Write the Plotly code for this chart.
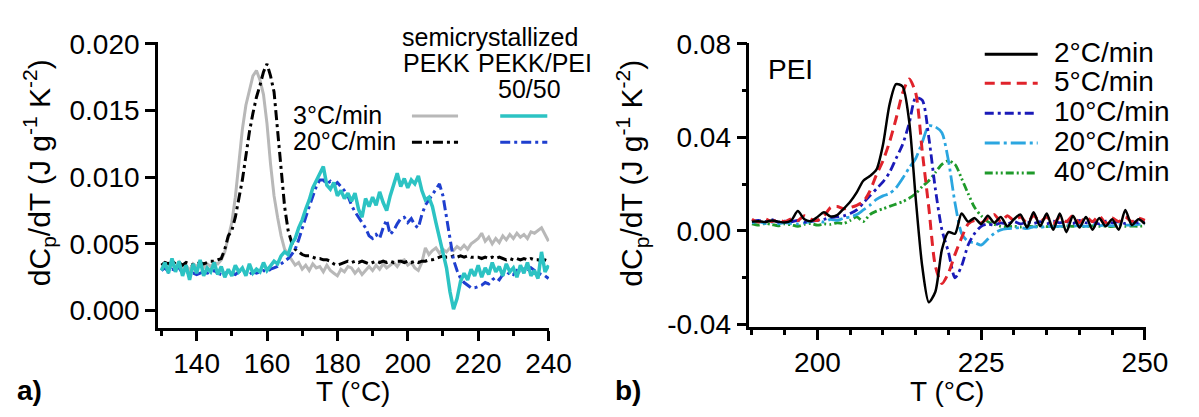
import plotly.graph_objects as go

W, H = 1199, 417
FONT = "Liberation Sans, Arial, sans-serif"

# ---------------- panel a) data ----------------
temp_a = list(range(130, 241))

pekk_3 = [0.0031, 0.0034, 0.0030, 0.0035, 0.0032, 0.0036, 0.0031, 0.0034, 0.0030, 0.0035,
          0.0033, 0.0036, 0.0032, 0.0035, 0.0033, 0.0036, 0.0035, 0.0038, 0.0044, 0.0054,
          0.0066, 0.0085, 0.0110, 0.0136, 0.0154, 0.0166, 0.0176, 0.0180, 0.0173, 0.0162,
          0.0140, 0.0110, 0.0086, 0.0070, 0.0056, 0.0046, 0.0042, 0.0038, 0.0034, 0.0036,
          0.0031, 0.0034, 0.0030, 0.0035, 0.0032, 0.0033, 0.0029, 0.0034, 0.0030, 0.0028,
          0.0026, 0.0031, 0.0029, 0.0033, 0.0032, 0.0028, 0.0031, 0.0027, 0.0030, 0.0033,
          0.0030, 0.0034, 0.0031, 0.0035, 0.0032, 0.0034, 0.0036, 0.0033, 0.0037, 0.0038,
          0.0034, 0.0036, 0.0032, 0.0030, 0.0036, 0.0047, 0.0042, 0.0045, 0.0047, 0.0043,
          0.0046, 0.0044, 0.0047, 0.0045, 0.0048, 0.0046, 0.0049, 0.0046, 0.0050, 0.0052,
          0.0054, 0.0058, 0.0052, 0.0055, 0.0050, 0.0054, 0.0051, 0.0056, 0.0053, 0.0057,
          0.0054, 0.0058, 0.0055, 0.0057, 0.0054, 0.0059, 0.0058, 0.0060, 0.0062, 0.0057,
          0.0052]

pekk_20 = [0.0034, 0.0036, 0.0035, 0.0037, 0.0035, 0.0036, 0.0034, 0.0036, 0.0035, 0.0034,
           0.0035, 0.0036, 0.0035, 0.0036, 0.0037, 0.0037, 0.0038, 0.0039, 0.0046, 0.0056,
           0.0060, 0.0070, 0.0084, 0.0098, 0.0116, 0.0134, 0.0148, 0.0160, 0.0169, 0.0179,
           0.0185, 0.0176, 0.0164, 0.0135, 0.0108, 0.0078, 0.0060, 0.0051, 0.0046, 0.0044,
           0.0042, 0.0041, 0.0041, 0.0040, 0.0039, 0.0039, 0.0038, 0.0038, 0.0037, 0.0035,
           0.0034, 0.0035, 0.0036, 0.0037, 0.0036, 0.0037, 0.0036, 0.0037, 0.0036, 0.0035,
           0.0036, 0.0037, 0.0036, 0.0037, 0.0036, 0.0037, 0.0036, 0.0037, 0.0037, 0.0036,
           0.0037, 0.0036, 0.0037, 0.0036, 0.0037, 0.0037, 0.0038, 0.0038, 0.0039, 0.0040,
           0.0041, 0.0040, 0.0040, 0.0041, 0.0040, 0.0041, 0.0040, 0.0041, 0.0040, 0.0040,
           0.0040, 0.0039, 0.0040, 0.0039, 0.0040, 0.0039, 0.0040, 0.0039, 0.0038, 0.0039,
           0.0038, 0.0039, 0.0038, 0.0039, 0.0038, 0.0039, 0.0038, 0.0038, 0.0037, 0.0038,
           0.0037]

blend_3 = [0.0030, 0.0036, 0.0028, 0.0039, 0.0029, 0.0037, 0.0026, 0.0034, 0.0023, 0.0035,
           0.0028, 0.0038, 0.0026, 0.0032, 0.0029, 0.0036, 0.0027, 0.0033, 0.0025, 0.0031,
           0.0026, 0.0034, 0.0029, 0.0032, 0.0026, 0.0035, 0.0028, 0.0031, 0.0029, 0.0036,
           0.0030, 0.0034, 0.0037, 0.0035, 0.0041, 0.0044, 0.0042, 0.0050, 0.0054, 0.0062,
           0.0068, 0.0076, 0.0083, 0.0092, 0.0097, 0.0102, 0.0108, 0.0094, 0.0091, 0.0096,
           0.0086, 0.0090, 0.0084, 0.0088, 0.0082, 0.0088, 0.0076, 0.0070, 0.0084, 0.0078,
           0.0085, 0.0079, 0.0089, 0.0081, 0.0075, 0.0086, 0.0094, 0.0103, 0.0093, 0.0099,
           0.0092, 0.0098, 0.0095, 0.0101, 0.0090, 0.0083, 0.0085, 0.0078, 0.0066, 0.0054,
           0.0044, 0.0032, 0.0014, 0.0001, 0.0009, 0.0022, 0.0028, 0.0023, 0.0031, 0.0026,
           0.0034, 0.0025, 0.0032, 0.0027, 0.0036, 0.0029, 0.0033, 0.0026, 0.0035, 0.0029,
           0.0032, 0.0025, 0.0034, 0.0028, 0.0036, 0.0026, 0.0030, 0.0024, 0.0044, 0.0029,
           0.0034]

blend_20 = [0.0030, 0.0032, 0.0029, 0.0031, 0.0030, 0.0032, 0.0028, 0.0030, 0.0027, 0.0028,
            0.0027, 0.0028, 0.0029, 0.0028, 0.0029, 0.0030, 0.0028, 0.0027, 0.0028, 0.0029,
            0.0028, 0.0027, 0.0029, 0.0030, 0.0028, 0.0027, 0.0029, 0.0028, 0.0029, 0.0030,
            0.0029, 0.0031, 0.0032, 0.0033, 0.0035, 0.0037, 0.0039, 0.0042, 0.0046, 0.0053,
            0.0062, 0.0070, 0.0078, 0.0086, 0.0093, 0.0098, 0.0098, 0.0095, 0.0097, 0.0094,
            0.0096, 0.0093, 0.0090, 0.0086, 0.0079, 0.0074, 0.0070, 0.0066, 0.0062, 0.0056,
            0.0054, 0.0057, 0.0054, 0.0062, 0.0068, 0.0057, 0.0060, 0.0065, 0.0069, 0.0070,
            0.0066, 0.0069, 0.0064, 0.0062, 0.0072, 0.0079, 0.0083, 0.0088, 0.0092, 0.0095,
            0.0086, 0.0070, 0.0052, 0.0038, 0.0030, 0.0024, 0.0021, 0.0019, 0.0017, 0.0017,
            0.0018, 0.0019, 0.0021, 0.0020, 0.0023, 0.0025, 0.0023, 0.0027, 0.0026, 0.0029,
            0.0027, 0.0030, 0.0028, 0.0031, 0.0029, 0.0032, 0.0030, 0.0028, 0.0027, 0.0026,
            0.0024]

# ---------------- panel b) data ----------------
temp_b = list(range(190, 251))

pei_2 = [0.0040, 0.0042, 0.0038, 0.0045, 0.0040, 0.0036, 0.0045, 0.0085, 0.0050, 0.0042,
         0.0060, 0.0080, 0.0062, 0.0068, 0.0095, 0.0125, 0.0165, 0.0215, 0.0235, 0.0262,
         0.0368, 0.0540, 0.0628, 0.0618, 0.0470, 0.0140, -0.0152, -0.0305, -0.0260, -0.0080,
         -0.0005, -0.0012, 0.0075, 0.0040, 0.0055, 0.0030, 0.0065, 0.0035, 0.0060, 0.0020,
         0.0050, 0.0070, 0.0015, 0.0080, 0.0020, 0.0075, 0.0005, 0.0075, -0.0005, 0.0065,
         0.0015, 0.0060, 0.0005, 0.0055, 0.0020, 0.0050, 0.0005, 0.0090, 0.0025, 0.0050,
         0.0030]

pei_5 = [0.0050, 0.0038, 0.0052, 0.0040, 0.0048, 0.0040, 0.0052, 0.0045, 0.0065, 0.0050,
         0.0045, 0.0065, 0.0100, 0.0105, 0.0095, 0.0100, 0.0110, 0.0125, 0.0170, 0.0240,
         0.0300, 0.0380, 0.0480, 0.0590, 0.0650, 0.0590, 0.0340, 0.0100, -0.0150, -0.0225,
         -0.0180, -0.0100, -0.0030, 0.0030, 0.0045, 0.0035, 0.0055, 0.0070, 0.0040, 0.0065,
         0.0045, 0.0060, 0.0035, 0.0065, 0.0040, 0.0060, 0.0030, 0.0060, 0.0040, 0.0065,
         0.0035, 0.0060, 0.0040, 0.0065, 0.0035, 0.0055, 0.0040, 0.0060, 0.0040, 0.0055,
         0.0045]

pei_10 = [0.0042, 0.0045, 0.0040, 0.0048, 0.0038, 0.0042, 0.0040, 0.0045, 0.0038, 0.0042,
          0.0045, 0.0050, 0.0058, 0.0060, 0.0065, 0.0075, 0.0090, 0.0120, 0.0150, 0.0180,
          0.0210, 0.0250, 0.0310, 0.0370, 0.0460, 0.0570, 0.0560, 0.0400, 0.0180, 0.0005,
          -0.0090, -0.0200, -0.0150, -0.0060, -0.0010, 0.0020, 0.0030, 0.0025, 0.0035, 0.0030,
          0.0040, 0.0030, 0.0038, 0.0032, 0.0040, 0.0030, 0.0042, 0.0035, 0.0040, 0.0032,
          0.0045, 0.0035, 0.0040, 0.0030, 0.0042, 0.0035, 0.0040, 0.0032, 0.0040, 0.0035,
          0.0038]

pei_20 = [0.0035, 0.0040, 0.0032, 0.0038, 0.0030, 0.0036, 0.0032, 0.0030, 0.0035, 0.0040,
          0.0045, 0.0038, 0.0050, 0.0045, 0.0055, 0.0060, 0.0070, 0.0090, 0.0110, 0.0135,
          0.0150, 0.0160, 0.0185, 0.0225, 0.0270, 0.0310, 0.0380, 0.0450, 0.0445, 0.0420,
          0.0300, 0.0120, -0.0010, -0.0045, -0.0050, -0.0060, -0.0035, -0.0010, 0.0005, 0.0010,
          0.0012, 0.0015, 0.0010, 0.0018, 0.0015, 0.0020, 0.0018, 0.0020, 0.0022, 0.0020,
          0.0024, 0.0020, 0.0025, 0.0022, 0.0025, 0.0022, 0.0028, 0.0025, 0.0025, 0.0028,
          0.0030]

pei_40 = [0.0030, 0.0025, 0.0032, 0.0028, 0.0022, 0.0030, 0.0026, 0.0020, 0.0028, 0.0032,
          0.0025, 0.0030, 0.0028, 0.0035, 0.0032, 0.0045, 0.0060, 0.0040, 0.0070, 0.0085,
          0.0095, 0.0105, 0.0115, 0.0125, 0.0140, 0.0160, 0.0190, 0.0215, 0.0250, 0.0285,
          0.0300, 0.0285, 0.0225, 0.0160, 0.0100, 0.0065, 0.0040, 0.0028, 0.0020, 0.0018,
          0.0020, 0.0017, 0.0021, 0.0018, 0.0022, 0.0019, 0.0021, 0.0018, 0.0022, 0.0020,
          0.0021, 0.0019, 0.0022, 0.0020, 0.0021, 0.0019, 0.0022, 0.0020, 0.0021, 0.0020,
          0.0022]

left_ticks = [0.000, 0.005, 0.010, 0.015, 0.020]
left_ticktext = ["0.000", "0.005", "0.010", "0.015", "0.020"]
right_ticks = [-0.04, 0.0, 0.04, 0.08]
right_ticktext = ["-0.04", "0.00", "0.04", "0.08"]

# ---------------- styles ----------------
GREY = "#b8b8b8"
CYAN = "#2cc3c3"
BLUE_A = "#1f3fcf"
RED = "#e0232b"
BLUE_B = "#1a1ab8"
LBLUE = "#2ba6e0"
GREEN = "#1f9a2a"

DASH_A = "10px,4px,3px,4px"
DASH_RED = "10px,6px"
DASH_B10 = "9px,4px,3px,4px"
DASH_B20 = "15px,4px,3px,4px"
DASH_B40 = "8px,3px,2px,3px,2px,3px"


def px(x):
    return x / W


def py(y):
    return 1 - y / H


fig = go.Figure()

# panel a
fig.add_trace(go.Scatter(x=temp_a, y=pekk_3, mode="lines", line=dict(color=GREY, width=3),
                         xaxis="x", yaxis="y", showlegend=False))
fig.add_trace(go.Scatter(x=temp_a, y=pekk_20, mode="lines", line=dict(color="black", width=3, dash=DASH_A),
                         xaxis="x", yaxis="y", showlegend=False))
fig.add_trace(go.Scatter(x=temp_a, y=blend_20, mode="lines", line=dict(color=BLUE_A, width=3, dash=DASH_A),
                         xaxis="x", yaxis="y", showlegend=False))
fig.add_trace(go.Scatter(x=temp_a, y=blend_3, mode="lines", line=dict(color=CYAN, width=3.5),
                         xaxis="x", yaxis="y", showlegend=False))

# panel b
for vals, col, dash, wd in [(pei_40, GREEN, DASH_B40, 2.8), (pei_20, LBLUE, DASH_B20, 2.8),
                            (pei_10, BLUE_B, DASH_B10, 2.8), (pei_5, RED, DASH_RED, 3),
                            (pei_2, "black", "solid", 2.5)]:
    fig.add_trace(go.Scatter(x=temp_b, y=vals, mode="lines",
                             line=dict(color=col, width=wd, dash=dash, shape="spline", smoothing=0.7),
                             xaxis="x2", yaxis="y2", showlegend=False))

axis_common = dict(showline=True, linecolor="black", linewidth=2.5, ticks="outside",
                   tickcolor="black", tickwidth=2.5, ticklen=10, showgrid=False,
                   zeroline=False, tickfont=dict(family=FONT, size=28, color="black"))

fig.update_layout(
    width=W, height=H, margin=dict(l=0, r=0, t=0, b=0),
    paper_bgcolor="white", plot_bgcolor="white",
    font=dict(family=FONT, color="black"),
    xaxis=dict(domain=[px(161), px(560)], range=[129, 240.2], anchor="y",
               tick0=0, dtick=20, ticklabelstandoff=-2,
               minor=dict(dtick=10, tick0=0, ticks="outside", ticklen=5, tickwidth=2.5, tickcolor="black"),
               **axis_common),
    yaxis=dict(domain=[py(336), py(30)], range=[-0.00133, 0.02014], anchor="x",
               tickvals=left_ticks, ticktext=left_ticktext, **axis_common),
    xaxis2=dict(domain=[px(764), px(1168)], range=[189.6, 250.1], anchor="y2",
                tickvals=[200, 225, 250], ticklabelstandoff=-2,
                minor=dict(dtick=5, tick0=0, ticks="outside", ticklen=5, tickwidth=2.5, tickcolor="black"),
                **axis_common),
    yaxis2=dict(domain=[py(335), py(31)], range=[-0.0412, 0.0804], anchor="x2",
                tickvals=right_ticks, ticktext=right_ticktext,
                minor=dict(dtick=0.02, tick0=0, ticks="outside", ticklen=5, tickwidth=2.5, tickcolor="black"),
                **axis_common),
)

ytitle = "dC<sub>p</sub>/dT (J g<sup>-1</sup> K<sup>-2</sup>)"
ann = []


def text(t, x, y, size, xanchor="center", angle=0, bold=False):
    if bold:
        t = "<b>" + t + "</b>"
    ann.append(dict(text=t, x=px(x), y=py(y), xref="paper", yref="paper", showarrow=False,
                    xanchor=xanchor, yanchor="middle", textangle=angle,
                    font=dict(family=FONT, size=size, color="black")))


text(ytitle, 40, 170, 30, angle=-90)
text(ytitle, 644, 170, 30, angle=-90)
text("T (°C)", 360, 404, 28)
text("T (°C)", 966, 404, 28)
text("a)", 30, 403, 28, bold=True)
text("b)", 640, 403, 28, bold=True)

# panel a legend
text("semicrystallized", 500, 25, 25)
text("PEKK", 445, 52, 25)
text("PEKK/PEI", 545, 52, 25)
text("50/50", 540, 80, 25)
text("3°C/min", 297, 108, 25, xanchor="left")
text("20°C/min", 297, 136, 25, xanchor="left")

# panel b legend
text("PEI", 806, 59, 28)
rows_b = [41, 72, 104, 136, 168]
labels_b = ["2°C/min", "5°C/min", "10°C/min", "20°C/min", "40°C/min"]
for r, lab in zip(rows_b, labels_b):
    text(lab, 1073, r, 28, xanchor="left")

fig.update_layout(annotations=ann)

shapes = []


def seg(x0, x1, y, col, dash, wd):
    shapes.append(dict(type="line", xref="paper", yref="paper", x0=px(x0), x1=px(x1),
                       y0=py(y), y1=py(y), line=dict(color=col, width=wd, dash=dash)))


seg(420, 467, 109, GREY, "solid", 3)
seg(510, 558, 109, CYAN, "solid", 3.5)
seg(420, 467, 137, "black", DASH_A, 3)
seg(510, 558, 137, BLUE_A, DASH_A, 3)

styles_b = [("black", "solid", 3), (RED, DASH_RED, 3), (BLUE_B, DASH_B10, 3),
            (LBLUE, DASH_B20, 3), (GREEN, DASH_B40, 3)]
for r, (col, dash, wd) in zip(rows_b, styles_b):
    seg(1004, 1058, r + 2, col, dash, wd)

fig.update_layout(shapes=shapes)

fig.write_html("out.html")
